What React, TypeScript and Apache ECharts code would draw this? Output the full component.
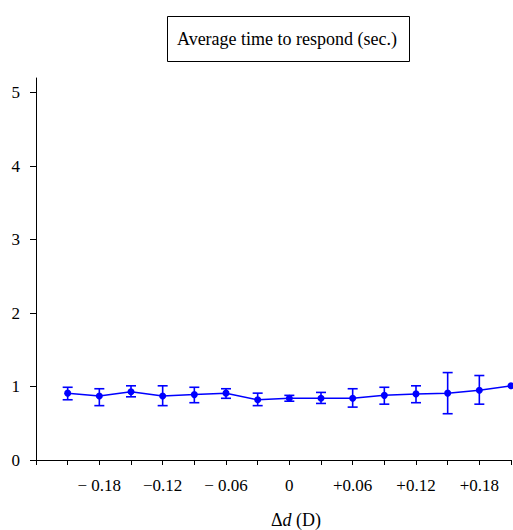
import React, { useEffect, useRef } from "react";
import * as echarts from "echarts";

const xValues = [-0.21, -0.18, -0.15, -0.12, -0.09, -0.06, -0.03, 0, 0.03, 0.06, 0.09, 0.12, 0.15, 0.18, 0.21];
const means = [0.91, 0.87, 0.93, 0.87, 0.89, 0.91, 0.82, 0.84, 0.84, 0.84, 0.88, 0.9, 0.91, 0.95, 1.01];
const lows = [0.82, 0.74, 0.86, 0.74, 0.78, 0.84, 0.74, 0.8, 0.77, 0.72, 0.76, 0.78, 0.63, 0.76, null];
const highs = [0.99, 0.97, 1.01, 1.01, 0.99, 0.97, 0.91, 0.88, 0.92, 0.97, 0.99, 1.01, 1.19, 1.15, null];

const xTickValues = [-0.24, -0.21, -0.18, -0.15, -0.12, -0.09, -0.06, -0.03, 0, 0.03, 0.06, 0.09, 0.12, 0.15, 0.18, 0.21];
const xLabelValues = [-0.18, -0.12, -0.06, 0, 0.06, 0.12, 0.18];
const xLabelTexts = ["\u2212 0.18", "\u22120.12", "\u2212 0.06", "0", "+0.06", "+0.12", "+0.18"];
const yTickValues = [0, 1, 2, 3, 4, 5];

const titleText = "Average time to respond (sec.)";
const BLUE = "#0000ff";
const FONT = "Liberation Serif";

export default function App() {
  const ref = useRef<HTMLDivElement>(null);
  useEffect(() => {
    document.body.style.margin = "0";
    const chart = echarts.init(ref.current!, null, { renderer: "svg" });
    const lineData = xValues.map((x, i) => [x, means[i]]);
    const errData = xValues
      .map((x, i) => [x, lows[i], highs[i]])
      .filter((d) => d[1] != null && d[2] != null);
    chart.setOption({
      animation: false,
      backgroundColor: "#fff",
      grid: { left: 36, right: 2, top: 78, bottom: 70, containLabel: false, outerBoundsMode: "none" },
      graphic: [
        {
          type: "rect",
          shape: { x: 167.5, y: 16.5, width: 242, height: 45 },
          style: { fill: "#fff", stroke: "#000", lineWidth: 1 },
        },
        {
          type: "text",
          x: 287,
          y: 39,
          style: {
            text: titleText,
            font: `18px "${FONT}"`,
            fill: "#000",
            align: "center",
            verticalAlign: "middle",
          },
        },
        {
          type: "text",
          x: 296,
          y: 520,
          style: {
            text: "{a|\u0394}{i|d}{a| (D)}",
            align: "center",
            verticalAlign: "middle",
            rich: {
              a: { fontFamily: FONT, fontSize: 18, fill: "#000" },
              i: { fontFamily: FONT, fontSize: 18, fontStyle: "italic", fill: "#000" },
            },
          },
        },
      ],
      xAxis: {
        type: "value",
        min: -0.24,
        max: 0.21,
        splitLine: { show: false },
        axisLine: { show: true, onZero: false, lineStyle: { color: "#000", width: 1 } },
        axisTick: { show: true, length: 5, customValues: xTickValues, lineStyle: { color: "#000" } },
        axisLabel: {
          customValues: xLabelValues,
          margin: 17,
          color: "#000",
          fontFamily: FONT,
          fontSize: 17,
          formatter: (v: number) => {
            const idx = xLabelValues.findIndex((lv) => Math.abs(lv - v) < 1e-9);
            return idx >= 0 ? xLabelTexts[idx] : "";
          },
        },
      },
      yAxis: {
        type: "value",
        min: 0,
        max: 5.2,
        splitLine: { show: false },
        axisLine: { show: true, onZero: false, lineStyle: { color: "#000", width: 1 } },
        axisTick: { show: true, length: 6, customValues: yTickValues, lineStyle: { color: "#000" } },
        axisLabel: {
          customValues: yTickValues,
          margin: 16,
          color: "#000",
          fontFamily: FONT,
          fontSize: 17,
        },
      },
      series: [
        {
          type: "line",
          data: lineData,
          symbol: "circle",
          symbolSize: 7,
          clip: false,
          lineStyle: { color: BLUE, width: 1.5 },
          itemStyle: { color: BLUE },
          z: 3,
        },
        {
          type: "custom",
          data: errData,
          clip: false,
          z: 2,
          renderItem: (params: any, api: any) => {
            const x = api.value(0);
            const lo = api.coord([x, api.value(1)]);
            const hi = api.coord([x, api.value(2)]);
            const hw = 5;
            const style = { stroke: BLUE, lineWidth: 1.6 };
            return {
              type: "group",
              children: [
                { type: "line", shape: { x1: lo[0], y1: lo[1], x2: hi[0], y2: hi[1] }, style },
                { type: "line", shape: { x1: hi[0] - hw, y1: hi[1], x2: hi[0] + hw, y2: hi[1] }, style },
                { type: "line", shape: { x1: lo[0] - hw, y1: lo[1], x2: lo[0] + hw, y2: lo[1] }, style },
              ],
            };
          },
        },
      ],
    });
    return () => chart.dispose();
  }, []);
  return <div ref={ref} style={{ width: 513, height: 530 }} />;
}
